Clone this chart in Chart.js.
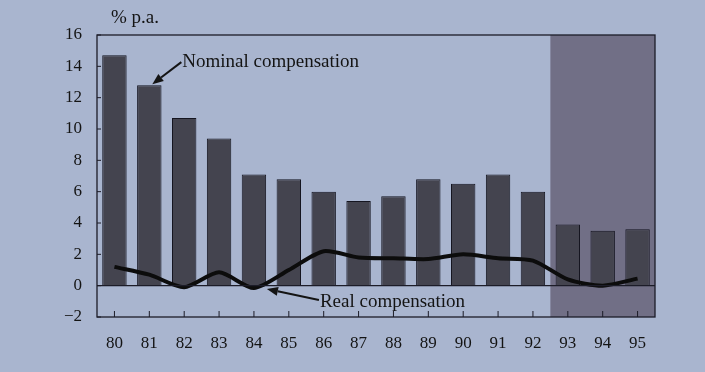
<!DOCTYPE html>
<html>
<head>
<meta charset="utf-8">
<script src="https://cdn.jsdelivr.net/npm/chart.js@4/dist/chart.umd.min.js"></script>
<style>
  html, body { margin: 0; padding: 0; background: #a9b5cf; }
  #wrap { position: relative; width: 705px; height: 372px; }
  canvas { display: block; }
</style>
</head>
<body>
<div id="wrap"><canvas id="c" width="705" height="372"></canvas></div>
<script>
// Years shown on the category axis
const years = ['80','81','82','83','84','85','86','87','88','89','90','91','92','93','94','95'];
// Nominal compensation growth, % p.a.
const nominal = [14.7, 12.8, 10.7, 9.4, 7.1, 6.8, 6.0, 5.4, 5.7, 6.8, 6.5, 7.1, 6.0, 3.9, 3.5, 3.6];
// Real compensation growth, % p.a.
const real = [1.2, 0.7, -0.1, 0.85, -0.15, 1.0, 2.2, 1.8, 1.75, 1.7, 2.0, 1.75, 1.6, 0.4, 0.0, 0.45];
// Value-axis ticks
const yTicks = [-2, 0, 2, 4, 6, 8, 10, 12, 14, 16];
// Forecast years, shaded
const forecastYears = ['93', '94', '95'];

const SERIF = '"Liberation Serif", "DejaVu Serif", serif';
const INK = '#141414';

const framePlugin = {
  id: 'frame',
  beforeDatasetsDraw(chart) {
    const { ctx, chartArea: a, scales: { x } } = chart;
    // shaded forecast period
    const i0 = years.indexOf(forecastYears[0]);
    const left = (x.getPixelForValue(i0 - 1) + x.getPixelForValue(i0)) / 2;
    ctx.save();
    ctx.fillStyle = '#716f86';
    ctx.fillRect(left, a.top, a.right - left, a.bottom - a.top);
    ctx.restore();
  },
  afterDatasetsDraw(chart) {
    const { ctx, chartArea: a, scales: { x, y } } = chart;
    ctx.save();
    ctx.strokeStyle = '#1c1c28';
    ctx.lineWidth = 1.3;
    // plot box
    ctx.strokeRect(a.left, a.top, a.right - a.left, a.bottom - a.top);
    // zero line
    const y0 = y.getPixelForValue(0);
    ctx.beginPath();
    ctx.moveTo(a.left, y0); ctx.lineTo(a.right, y0);
    ctx.stroke();
    // inward ticks on both axes
    ctx.lineWidth = 1;
    years.forEach((_, i) => {
      const px = x.getPixelForValue(i);
      ctx.beginPath(); ctx.moveTo(px, a.bottom); ctx.lineTo(px, a.bottom - 6); ctx.stroke();
    });
    yTicks.forEach(v => {
      const py = y.getPixelForValue(v);
      ctx.beginPath(); ctx.moveTo(a.left, py); ctx.lineTo(a.left + 4, py); ctx.stroke();
    });
    ctx.restore();
  },
  afterDraw(chart) {
    const { ctx, chartArea: a, scales: { x, y } } = chart;
    ctx.save();
    ctx.fillStyle = INK;
    ctx.strokeStyle = INK;
    ctx.font = '19px ' + SERIF;
    ctx.textBaseline = 'alphabetic';
    // unit label
    ctx.textAlign = 'left';
    ctx.fillText('% p.a.', a.left + 14, 23);

    function arrow(x1, y1, x2, y2) {
      const ang = Math.atan2(y2 - y1, x2 - x1);
      const hl = 11, hw = 4.5;
      const bx = x2 - hl * Math.cos(ang), by = y2 - hl * Math.sin(ang);
      ctx.lineWidth = 2;
      ctx.beginPath(); ctx.moveTo(x1, y1); ctx.lineTo(bx, by); ctx.stroke();
      ctx.beginPath();
      ctx.moveTo(x2, y2);
      ctx.lineTo(bx + hw * Math.sin(ang), by - hw * Math.cos(ang));
      ctx.lineTo(bx - hw * Math.sin(ang), by + hw * Math.cos(ang));
      ctx.closePath(); ctx.fill();
    }

    // nominal label, pointing at the 1981 bar
    const nx = x.getPixelForValue(1), ny = y.getPixelForValue(nominal[1]);
    arrow(nx + 32, ny - 23, nx + 3, ny - 1);
    ctx.fillText('Nominal compensation', nx + 33, ny - 18);

    // real label, pointing at the 1984 trough
    const rx = x.getPixelForValue(4), ry = y.getPixelForValue(real[4]);
    arrow(rx + 65, ry + 12, rx + 13, ry + 1);
    ctx.fillText('Real compensation', rx + 66, ry + 19);
    ctx.restore();
  }
};

new Chart(document.getElementById('c'), {
  data: {
    labels: years,
    datasets: [
      {
        type: 'line',
        label: 'Real compensation',
        data: real,
        borderColor: '#0c0c0c',
        borderWidth: 4,
        pointRadius: 0,
        tension: 0.25,
        order: 0
      },
      {
        type: 'bar',
        label: 'Nominal compensation',
        data: nominal,
        backgroundColor: '#44444f',
        borderColor: '#151520',
        borderWidth: 1,
        borderSkipped: 'bottom',
        barPercentage: 0.7,
        categoryPercentage: 1.0,
        order: 1
      }
    ]
  },
  options: {
    responsive: false,
    animation: false,
    layout: { padding: { top: 35, right: 50, bottom: 0, left: 0 } },
    plugins: { legend: { display: false }, tooltip: { enabled: false } },
    scales: {
      x: {
        grid: { display: false, drawTicks: false },
        border: { display: false },
        ticks: { color: INK, font: { family: SERIF, size: 17 }, padding: 16, maxRotation: 0 },
        afterFit(s) { s.height = 55; }
      },
      y: {
        min: -2, max: 16,
        grid: { display: false, drawTicks: false },
        border: { display: false },
        afterBuildTicks(s) { s.ticks = yTicks.map(v => ({ value: v })); },
        ticks: {
          color: INK,
          font: { family: SERIF, size: 17 },
          padding: 15,
          callback: v => (v < 0 ? '\u2212' + Math.abs(v) : String(v))
        },
        afterFit(s) { s.width = 97; }
      }
    }
  },
  plugins: [framePlugin]
});
</script>
</body>
</html>
